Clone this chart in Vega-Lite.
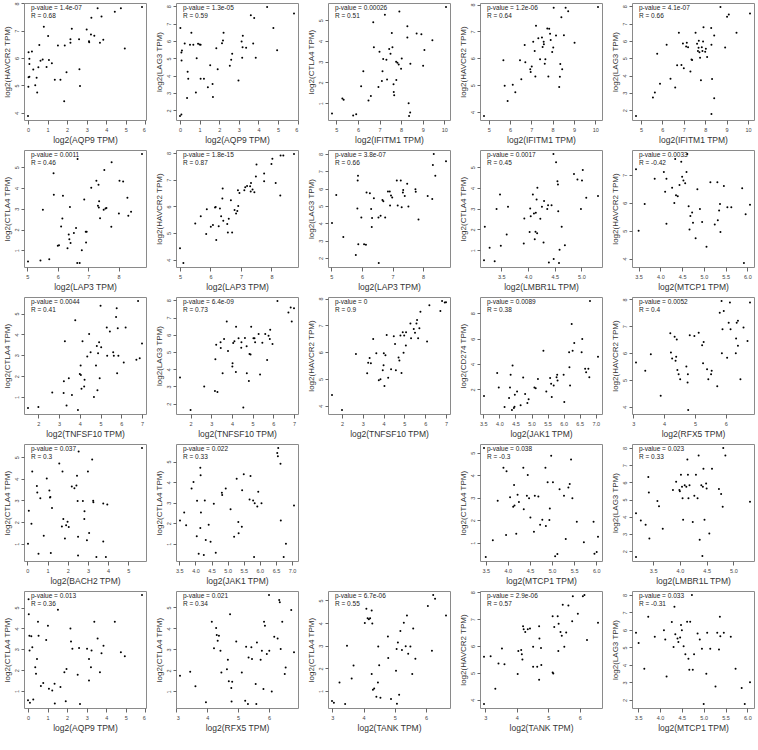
{
"$schema":"https://vega.github.io/schema/vega-lite/v6.json",
"padding":{"left":2,"top":1,"right":0,"bottom":0},
"background":"white",
"datasets":{
"stats":[
{"p":1,"label":"p-value = 1.4e-07\nR = 0.68"},{"p":2,"label":"p-value = 1.3e-05\nR = 0.59"},{"p":3,"label":"p-value = 0.00026\nR = 0.51"},{"p":4,"label":"p-value = 1.2e-06\nR = 0.64"},{"p":5,"label":"p-value = 4.1e-07\nR = 0.66"},
{"p":6,"label":"p-value = 0.0011\nR = 0.46"},{"p":7,"label":"p-value = 1.8e-15\nR = 0.87"},{"p":8,"label":"p-value = 3.8e-07\nR = 0.66"},{"p":9,"label":"p-value = 0.0017\nR = 0.45"},{"p":10,"label":"p-value = 0.0033\nR = -0.42"},
{"p":11,"label":"p-value = 0.0044\nR = 0.41"},{"p":12,"label":"p-value = 6.4e-09\nR = 0.73"},{"p":13,"label":"p-value = 0\nR = 0.9"},{"p":14,"label":"p-value = 0.0089\nR = 0.38"},{"p":15,"label":"p-value = 0.0052\nR = 0.4"},
{"p":16,"label":"p-value = 0.037\nR = 0.3"},{"p":17,"label":"p-value = 0.022\nR = 0.33"},{"p":18,"label":"p-value = 0.038\nR = -0.3"},{"p":19,"label":"p-value = 0.023\nR = 0.33"},
{"p":20,"label":"p-value = 0.013\nR = 0.36"},{"p":21,"label":"p-value = 0.021\nR = 0.34"},{"p":22,"label":"p-value = 6.7e-06\nR = 0.55"},{"p":23,"label":"p-value = 2.9e-06\nR = 0.57"},{"p":24,"label":"p-value = 0.033\nR = -0.31"}
],
"pts":[
{"p":1,"x":0.00,"y":3.88},{"p":1,"x":0.03,"y":6.21},{"p":1,"x":0.07,"y":5.98},{"p":1,"x":0.07,"y":5.78},{"p":1,"x":0.07,"y":5.32},{"p":1,"x":0.03,"y":5.30},{"p":1,"x":0.02,"y":4.95},{"p":1,"x":0.20,"y":6.24},{"p":1,"x":0.27,"y":5.58},{"p":1,"x":0.37,"y":5.01},{"p":1,"x":0.44,"y":5.28},{"p":1,"x":0.47,"y":4.74},{"p":1,"x":0.53,"y":5.66},{"p":1,"x":0.58,"y":6.48},{"p":1,"x":0.64,"y":5.90},{"p":1,"x":0.75,"y":5.95},{"p":1,"x":0.81,"y":7.15},{"p":1,"x":0.95,"y":5.67},{"p":1,"x":1.03,"y":6.81},{"p":1,"x":1.07,"y":5.93},{"p":1,"x":1.22,"y":5.81},{"p":1,"x":1.37,"y":5.21},{"p":1,"x":1.53,"y":6.46},{"p":1,"x":1.66,"y":5.21},{"p":1,"x":1.85,"y":4.42},{"p":1,"x":1.88,"y":6.46},{"p":1,"x":1.97,"y":5.48},{"p":1,"x":2.17,"y":6.56},{"p":1,"x":2.17,"y":6.69},{"p":1,"x":2.24,"y":7.07},{"p":1,"x":2.61,"y":6.69},{"p":1,"x":2.63,"y":5.59},{"p":1,"x":2.66,"y":4.98},{"p":1,"x":3.00,"y":7.05},{"p":1,"x":3.12,"y":6.62},{"p":1,"x":3.13,"y":6.58},{"p":1,"x":3.24,"y":7.48},{"p":1,"x":3.22,"y":6.86},{"p":1,"x":3.39,"y":6.82},{"p":1,"x":3.56,"y":7.82},{"p":1,"x":3.68,"y":6.56},{"p":1,"x":3.76,"y":7.52},{"p":1,"x":3.85,"y":6.67},{"p":1,"x":4.44,"y":7.70},{"p":1,"x":4.75,"y":7.82},{"p":1,"x":4.95,"y":6.35},{"p":1,"x":5.83,"y":7.87},
{"p":2,"x":0.00,"y":1.68},{"p":2,"x":0.07,"y":1.77},{"p":2,"x":0.02,"y":6.75},{"p":2,"x":0.07,"y":5.34},{"p":2,"x":0.10,"y":5.45},{"p":2,"x":0.08,"y":4.88},{"p":2,"x":0.24,"y":5.85},{"p":2,"x":0.36,"y":2.71},{"p":2,"x":0.39,"y":4.23},{"p":2,"x":0.42,"y":3.82},{"p":2,"x":0.51,"y":5.78},{"p":2,"x":0.58,"y":6.47},{"p":2,"x":0.68,"y":5.78},{"p":2,"x":0.81,"y":3.04},{"p":2,"x":0.92,"y":5.84},{"p":2,"x":1.00,"y":5.80},{"p":2,"x":1.05,"y":5.78},{"p":2,"x":0.85,"y":5.01},{"p":2,"x":1.05,"y":3.82},{"p":2,"x":1.22,"y":3.82},{"p":2,"x":1.42,"y":3.34},{"p":2,"x":1.54,"y":4.61},{"p":2,"x":1.68,"y":2.77},{"p":2,"x":1.66,"y":3.52},{"p":2,"x":1.85,"y":5.59},{"p":2,"x":1.92,"y":4.38},{"p":2,"x":2.14,"y":5.87},{"p":2,"x":2.19,"y":6.03},{"p":2,"x":2.22,"y":6.47},{"p":2,"x":2.54,"y":4.57},{"p":2,"x":2.61,"y":4.92},{"p":2,"x":2.66,"y":5.26},{"p":2,"x":2.98,"y":3.73},{"p":2,"x":3.14,"y":5.97},{"p":2,"x":3.17,"y":5.03},{"p":2,"x":3.20,"y":6.31},{"p":2,"x":3.19,"y":5.64},{"p":2,"x":3.37,"y":5.61},{"p":2,"x":3.61,"y":7.48},{"p":2,"x":3.73,"y":5.85},{"p":2,"x":3.86,"y":5.03},{"p":2,"x":3.78,"y":7.33},{"p":2,"x":4.44,"y":7.96},{"p":2,"x":4.76,"y":6.75},{"p":2,"x":4.95,"y":5.47},{"p":2,"x":5.81,"y":7.58},
{"p":3,"x":4.80,"y":0.50},{"p":3,"x":5.34,"y":1.17},{"p":3,"x":5.28,"y":1.22},{"p":3,"x":5.78,"y":0.41},{"p":3,"x":5.92,"y":0.46},{"p":3,"x":6.15,"y":1.82},{"p":3,"x":6.25,"y":2.54},{"p":3,"x":6.49,"y":1.13},{"p":3,"x":6.60,"y":1.35},{"p":3,"x":6.71,"y":4.90},{"p":3,"x":6.74,"y":3.70},{"p":3,"x":6.95,"y":1.78},{"p":3,"x":7.00,"y":3.48},{"p":3,"x":7.11,"y":2.07},{"p":3,"x":7.14,"y":2.54},{"p":3,"x":7.17,"y":3.13},{"p":3,"x":7.25,"y":5.26},{"p":3,"x":7.32,"y":3.10},{"p":3,"x":7.35,"y":2.14},{"p":3,"x":7.45,"y":3.61},{"p":3,"x":7.51,"y":3.38},{"p":3,"x":7.57,"y":4.38},{"p":3,"x":7.60,"y":3.70},{"p":3,"x":7.65,"y":1.91},{"p":3,"x":7.66,"y":1.54},{"p":3,"x":7.68,"y":1.38},{"p":3,"x":7.77,"y":3.00},{"p":3,"x":7.78,"y":2.12},{"p":3,"x":7.83,"y":2.95},{"p":3,"x":7.89,"y":2.87},{"p":3,"x":7.92,"y":5.42},{"p":3,"x":8.00,"y":2.66},{"p":3,"x":8.03,"y":3.16},{"p":3,"x":8.29,"y":4.71},{"p":3,"x":8.29,"y":4.17},{"p":3,"x":8.35,"y":1.00},{"p":3,"x":8.42,"y":0.55},{"p":3,"x":8.37,"y":0.38},{"p":3,"x":8.43,"y":2.90},{"p":3,"x":8.72,"y":4.36},{"p":3,"x":8.94,"y":4.33},{"p":3,"x":9.02,"y":2.81},{"p":3,"x":9.08,"y":3.56},{"p":3,"x":9.45,"y":4.04},{"p":3,"x":10.08,"y":5.64},
{"p":4,"x":4.78,"y":3.85},{"p":4,"x":5.69,"y":5.93},{"p":4,"x":5.75,"y":4.98},{"p":4,"x":5.89,"y":4.41},{"p":4,"x":6.13,"y":5.01},{"p":4,"x":6.25,"y":4.73},{"p":4,"x":6.53,"y":5.22},{"p":4,"x":6.47,"y":5.93},{"p":4,"x":6.72,"y":5.85},{"p":4,"x":6.69,"y":6.49},{"p":4,"x":6.95,"y":5.59},{"p":4,"x":6.97,"y":5.49},{"p":4,"x":7.02,"y":5.69},{"p":4,"x":7.09,"y":6.62},{"p":4,"x":7.16,"y":6.27},{"p":4,"x":7.19,"y":5.32},{"p":4,"x":7.22,"y":7.21},{"p":4,"x":7.33,"y":6.75},{"p":4,"x":7.41,"y":5.96},{"p":4,"x":7.50,"y":6.77},{"p":4,"x":7.53,"y":6.42},{"p":4,"x":7.58,"y":6.62},{"p":4,"x":7.59,"y":6.52},{"p":4,"x":7.63,"y":5.80},{"p":4,"x":7.66,"y":5.96},{"p":4,"x":7.75,"y":7.11},{"p":4,"x":7.80,"y":5.32},{"p":4,"x":7.84,"y":7.10},{"p":4,"x":7.88,"y":6.91},{"p":4,"x":7.91,"y":6.68},{"p":4,"x":7.98,"y":6.23},{"p":4,"x":8.03,"y":6.40},{"p":4,"x":8.05,"y":7.88},{"p":4,"x":8.16,"y":6.85},{"p":4,"x":8.31,"y":4.93},{"p":4,"x":8.34,"y":5.31},{"p":4,"x":8.36,"y":5.79},{"p":4,"x":8.41,"y":7.53},{"p":4,"x":8.45,"y":5.59},{"p":4,"x":8.53,"y":6.86},{"p":4,"x":8.61,"y":7.88},{"p":4,"x":8.73,"y":7.75},{"p":4,"x":9.03,"y":6.58},{"p":4,"x":10.13,"y":7.91},
{"p":5,"x":4.77,"y":1.66},{"p":5,"x":5.56,"y":2.73},{"p":5,"x":5.65,"y":3.02},{"p":5,"x":5.76,"y":5.26},{"p":5,"x":5.89,"y":3.52},{"p":5,"x":6.20,"y":5.78},{"p":5,"x":6.38,"y":3.82},{"p":5,"x":6.60,"y":3.31},{"p":5,"x":6.77,"y":6.47},{"p":5,"x":6.69,"y":4.59},{"p":5,"x":6.89,"y":4.61},{"p":5,"x":6.96,"y":5.85},{"p":5,"x":7.00,"y":4.42},{"p":5,"x":7.11,"y":5.68},{"p":5,"x":7.14,"y":5.89},{"p":5,"x":7.20,"y":5.64},{"p":5,"x":7.31,"y":4.23},{"p":5,"x":7.36,"y":4.93},{"p":5,"x":7.39,"y":4.90},{"p":5,"x":7.55,"y":6.47},{"p":5,"x":7.62,"y":5.84},{"p":5,"x":7.66,"y":5.41},{"p":5,"x":7.69,"y":5.61},{"p":5,"x":7.70,"y":6.01},{"p":5,"x":7.73,"y":5.34},{"p":5,"x":7.76,"y":5.03},{"p":5,"x":7.80,"y":3.73},{"p":5,"x":7.84,"y":5.64},{"p":5,"x":7.90,"y":5.97},{"p":5,"x":7.87,"y":5.41},{"p":5,"x":7.92,"y":6.79},{"p":5,"x":8.00,"y":5.38},{"p":5,"x":8.03,"y":5.55},{"p":5,"x":8.09,"y":5.07},{"p":5,"x":8.28,"y":6.75},{"p":5,"x":8.29,"y":5.78},{"p":5,"x":8.32,"y":3.80},{"p":5,"x":8.42,"y":6.31},{"p":5,"x":8.42,"y":2.69},{"p":5,"x":8.29,"y":1.77},{"p":5,"x":8.71,"y":7.96},{"p":5,"x":8.93,"y":5.62},{"p":5,"x":9.02,"y":7.39},{"p":5,"x":9.10,"y":7.52},{"p":5,"x":9.46,"y":6.47},{"p":5,"x":10.09,"y":7.58},
{"p":6,"x":5.02,"y":0.46},{"p":6,"x":5.43,"y":0.51},{"p":6,"x":5.72,"y":0.57},{"p":6,"x":5.51,"y":2.96},{"p":6,"x":5.86,"y":4.71},{"p":6,"x":5.87,"y":3.68},{"p":6,"x":6.00,"y":1.22},{"p":6,"x":6.04,"y":1.25},{"p":6,"x":6.11,"y":2.15},{"p":6,"x":6.15,"y":2.53},{"p":6,"x":6.17,"y":3.63},{"p":6,"x":6.32,"y":1.10},{"p":6,"x":6.36,"y":1.76},{"p":6,"x":6.38,"y":1.53},{"p":6,"x":6.40,"y":3.09},{"p":6,"x":6.42,"y":1.35},{"p":6,"x":6.53,"y":1.84},{"p":6,"x":6.60,"y":2.07},{"p":6,"x":6.64,"y":0.39},{"p":6,"x":6.72,"y":0.39},{"p":6,"x":6.79,"y":1.00},{"p":6,"x":6.87,"y":3.45},{"p":6,"x":6.92,"y":1.89},{"p":6,"x":6.95,"y":1.89},{"p":6,"x":6.93,"y":1.38},{"p":6,"x":7.10,"y":4.01},{"p":6,"x":7.27,"y":4.35},{"p":6,"x":7.32,"y":3.15},{"p":6,"x":7.34,"y":4.16},{"p":6,"x":7.35,"y":3.06},{"p":6,"x":7.36,"y":3.37},{"p":6,"x":7.39,"y":2.55},{"p":6,"x":7.51,"y":2.96},{"p":6,"x":7.53,"y":4.87},{"p":6,"x":7.57,"y":3.01},{"p":6,"x":7.60,"y":3.04},{"p":6,"x":7.76,"y":2.13},{"p":6,"x":7.77,"y":5.24},{"p":6,"x":8.01,"y":2.78},{"p":6,"x":8.03,"y":4.35},{"p":6,"x":8.15,"y":4.31},{"p":6,"x":8.29,"y":3.53},{"p":6,"x":8.32,"y":2.66},{"p":6,"x":8.41,"y":2.86},{"p":6,"x":8.77,"y":5.64},{"p":6,"x":6.65,"y":5.40},
{"p":7,"x":5.00,"y":4.43},{"p":7,"x":5.11,"y":3.88},{"p":7,"x":5.50,"y":5.36},{"p":7,"x":5.68,"y":5.63},{"p":7,"x":5.86,"y":4.97},{"p":7,"x":5.88,"y":5.89},{"p":7,"x":6.01,"y":5.24},{"p":7,"x":6.08,"y":5.30},{"p":7,"x":6.15,"y":5.96},{"p":7,"x":6.17,"y":5.98},{"p":7,"x":6.19,"y":4.74},{"p":7,"x":6.27,"y":5.26},{"p":7,"x":6.31,"y":5.92},{"p":7,"x":6.35,"y":5.63},{"p":7,"x":6.39,"y":6.29},{"p":7,"x":6.40,"y":6.67},{"p":7,"x":6.42,"y":5.46},{"p":7,"x":6.55,"y":5.34},{"p":7,"x":6.57,"y":5.02},{"p":7,"x":6.60,"y":5.54},{"p":7,"x":6.67,"y":6.23},{"p":7,"x":6.71,"y":5.02},{"p":7,"x":6.79,"y":5.86},{"p":7,"x":6.84,"y":5.73},{"p":7,"x":6.88,"y":5.83},{"p":7,"x":6.90,"y":6.60},{"p":7,"x":6.91,"y":6.01},{"p":7,"x":6.95,"y":6.50},{"p":7,"x":7.11,"y":6.60},{"p":7,"x":7.14,"y":6.72},{"p":7,"x":7.20,"y":6.76},{"p":7,"x":7.30,"y":6.75},{"p":7,"x":7.33,"y":6.87},{"p":7,"x":7.32,"y":6.56},{"p":7,"x":7.38,"y":6.63},{"p":7,"x":7.44,"y":6.53},{"p":7,"x":7.49,"y":7.12},{"p":7,"x":7.51,"y":7.57},{"p":7,"x":7.76,"y":7.23},{"p":7,"x":7.76,"y":6.94},{"p":7,"x":8.00,"y":7.59},{"p":7,"x":8.03,"y":7.78},{"p":7,"x":8.14,"y":6.87},{"p":7,"x":8.29,"y":6.41},{"p":7,"x":8.30,"y":7.90},{"p":7,"x":8.39,"y":7.90},{"p":7,"x":8.74,"y":7.96},
{"p":8,"x":5.02,"y":4.02},{"p":8,"x":5.39,"y":3.21},{"p":8,"x":5.80,"y":2.17},{"p":8,"x":5.16,"y":5.63},{"p":8,"x":5.87,"y":6.75},{"p":8,"x":5.86,"y":6.47},{"p":8,"x":5.88,"y":2.79},{"p":8,"x":5.85,"y":4.85},{"p":8,"x":5.98,"y":4.33},{"p":8,"x":6.07,"y":2.79},{"p":8,"x":6.13,"y":2.77},{"p":8,"x":6.15,"y":5.78},{"p":8,"x":6.26,"y":5.74},{"p":8,"x":6.30,"y":4.83},{"p":8,"x":6.32,"y":3.79},{"p":8,"x":6.33,"y":4.31},{"p":8,"x":6.39,"y":5.45},{"p":8,"x":6.54,"y":4.33},{"p":8,"x":6.55,"y":1.71},{"p":8,"x":6.61,"y":4.43},{"p":8,"x":6.67,"y":5.34},{"p":8,"x":6.70,"y":5.28},{"p":8,"x":6.76,"y":4.33},{"p":8,"x":6.85,"y":5.84},{"p":8,"x":6.91,"y":5.84},{"p":8,"x":6.92,"y":5.03},{"p":8,"x":6.95,"y":5.61},{"p":8,"x":6.99,"y":5.49},{"p":8,"x":7.14,"y":6.47},{"p":8,"x":7.17,"y":5.03},{"p":8,"x":7.27,"y":6.47},{"p":8,"x":7.30,"y":4.93},{"p":8,"x":7.35,"y":5.92},{"p":8,"x":7.34,"y":5.78},{"p":8,"x":7.40,"y":5.57},{"p":8,"x":7.48,"y":6.28},{"p":8,"x":7.52,"y":4.97},{"p":8,"x":7.75,"y":5.97},{"p":8,"x":7.76,"y":5.82},{"p":8,"x":7.85,"y":4.22},{"p":8,"x":8.15,"y":5.57},{"p":8,"x":8.30,"y":5.41},{"p":8,"x":8.35,"y":8.00},{"p":8,"x":8.32,"y":7.36},{"p":8,"x":8.40,"y":6.75},{"p":8,"x":8.75,"y":7.58},
{"p":9,"x":3.175,"y":0.51},{"p":9,"x":3.19,"y":2.13},{"p":9,"x":3.28,"y":1.11},{"p":9,"x":3.375,"y":0.46},{"p":9,"x":3.41,"y":2.98},{"p":9,"x":3.49,"y":1.21},{"p":9,"x":3.475,"y":3.68},{"p":9,"x":3.625,"y":3.09},{"p":9,"x":3.60,"y":1.76},{"p":9,"x":3.92,"y":1.32},{"p":9,"x":3.93,"y":2.53},{"p":9,"x":4.03,"y":1.88},{"p":9,"x":4.04,"y":3.01},{"p":9,"x":4.05,"y":2.64},{"p":9,"x":4.09,"y":3.68},{"p":9,"x":4.11,"y":2.77},{"p":9,"x":4.125,"y":1.53},{"p":9,"x":4.14,"y":1.89},{"p":9,"x":4.145,"y":2.80},{"p":9,"x":4.16,"y":3.44},{"p":9,"x":4.17,"y":1.81},{"p":9,"x":4.175,"y":4.01},{"p":9,"x":4.23,"y":2.51},{"p":9,"x":4.26,"y":3.09},{"p":9,"x":4.29,"y":1.37},{"p":9,"x":4.30,"y":3.37},{"p":9,"x":4.36,"y":2.98},{"p":9,"x":4.375,"y":3.17},{"p":9,"x":4.44,"y":3.17},{"p":9,"x":4.39,"y":0.41},{"p":9,"x":4.475,"y":5.64},{"p":9,"x":4.48,"y":0.57},{"p":9,"x":4.58,"y":0.38},{"p":9,"x":4.525,"y":5.24},{"p":9,"x":4.55,"y":4.33},{"p":9,"x":4.56,"y":4.17},{"p":9,"x":4.565,"y":2.88},{"p":9,"x":4.59,"y":1.02},{"p":9,"x":4.63,"y":2.13},{"p":9,"x":4.69,"y":1.24},{"p":9,"x":4.86,"y":4.68},{"p":9,"x":4.925,"y":4.41},{"p":9,"x":4.99,"y":2.98},{"p":9,"x":5.01,"y":4.36},{"p":9,"x":5.025,"y":4.87},{"p":9,"x":5.09,"y":3.53},{"p":9,"x":5.31,"y":3.61},
{"p":10,"x":3.44,"y":7.20},{"p":10,"x":3.50,"y":5.00},{"p":10,"x":3.64,"y":5.96},{"p":10,"x":3.87,"y":6.86},{"p":10,"x":4.08,"y":7.10},{"p":10,"x":4.11,"y":6.40},{"p":10,"x":4.14,"y":6.86},{"p":10,"x":4.14,"y":5.25},{"p":10,"x":4.27,"y":6.54},{"p":10,"x":4.32,"y":5.99},{"p":10,"x":4.34,"y":7.57},{"p":10,"x":4.36,"y":6.27},{"p":10,"x":4.40,"y":6.23},{"p":10,"x":4.44,"y":6.64},{"p":10,"x":4.48,"y":7.47},{"p":10,"x":4.50,"y":6.93},{"p":10,"x":4.53,"y":6.80},{"p":10,"x":4.57,"y":6.70},{"p":10,"x":4.60,"y":7.10},{"p":10,"x":4.62,"y":7.75},{"p":10,"x":4.65,"y":5.88},{"p":10,"x":4.67,"y":5.04},{"p":10,"x":4.69,"y":5.53},{"p":10,"x":4.73,"y":5.65},{"p":10,"x":4.75,"y":5.28},{"p":10,"x":4.81,"y":4.73},{"p":10,"x":4.85,"y":6.49},{"p":10,"x":4.91,"y":5.78},{"p":10,"x":4.96,"y":5.31},{"p":10,"x":5.06,"y":4.42},{"p":10,"x":5.15,"y":6.74},{"p":10,"x":5.25,"y":5.22},{"p":10,"x":5.31,"y":6.74},{"p":10,"x":5.32,"y":5.37},{"p":10,"x":5.35,"y":5.72},{"p":10,"x":5.37,"y":5.96},{"p":10,"x":5.38,"y":4.95},{"p":10,"x":5.46,"y":6.60},{"p":10,"x":5.54,"y":5.84},{"p":10,"x":5.63,"y":5.84},{"p":10,"x":5.88,"y":6.52},{"p":10,"x":5.96,"y":5.59},{"p":10,"x":6.06,"y":5.93},{"p":10,"x":5.92,"y":3.84},
{"p":11,"x":1.50,"y":0.48},{"p":11,"x":2.00,"y":0.52},{"p":11,"x":2.67,"y":1.22},{"p":11,"x":3.22,"y":1.19},{"p":11,"x":3.23,"y":1.76},{"p":11,"x":3.28,"y":3.67},{"p":11,"x":3.36,"y":0.59},{"p":11,"x":3.47,"y":1.90},{"p":11,"x":3.62,"y":1.10},{"p":11,"x":3.78,"y":4.68},{"p":11,"x":3.91,"y":0.38},{"p":11,"x":4.00,"y":2.11},{"p":11,"x":4.04,"y":2.51},{"p":11,"x":4.05,"y":2.06},{"p":11,"x":4.08,"y":1.40},{"p":11,"x":4.13,"y":3.67},{"p":11,"x":4.21,"y":1.51},{"p":11,"x":4.23,"y":1.83},{"p":11,"x":4.36,"y":2.94},{"p":11,"x":4.45,"y":4.02},{"p":11,"x":4.52,"y":3.14},{"p":11,"x":4.68,"y":1.00},{"p":11,"x":4.78,"y":2.51},{"p":11,"x":4.82,"y":3.44},{"p":11,"x":4.85,"y":1.33},{"p":11,"x":4.88,"y":3.10},{"p":11,"x":4.93,"y":3.62},{"p":11,"x":4.96,"y":1.90},{"p":11,"x":5.00,"y":5.37},{"p":11,"x":5.03,"y":3.38},{"p":11,"x":5.30,"y":4.33},{"p":11,"x":5.32,"y":2.98},{"p":11,"x":5.45,"y":4.14},{"p":11,"x":5.61,"y":3.14},{"p":11,"x":5.64,"y":2.98},{"p":11,"x":5.75,"y":4.83},{"p":11,"x":5.78,"y":5.25},{"p":11,"x":5.83,"y":4.30},{"p":11,"x":5.86,"y":2.98},{"p":11,"x":5.80,"y":2.14},{"p":11,"x":6.12,"y":2.65},{"p":11,"x":6.21,"y":4.33},{"p":11,"x":6.73,"y":2.79},{"p":11,"x":6.89,"y":2.86},{"p":11,"x":6.81,"y":5.60},{"p":11,"x":7.00,"y":3.56},
{"p":12,"x":1.49,"y":3.52},{"p":12,"x":2.00,"y":1.63},{"p":12,"x":2.66,"y":3.00},{"p":12,"x":3.18,"y":2.73},{"p":12,"x":3.30,"y":2.67},{"p":12,"x":3.20,"y":4.58},{"p":12,"x":3.24,"y":5.42},{"p":12,"x":3.45,"y":5.56},{"p":12,"x":3.75,"y":6.77},{"p":12,"x":3.46,"y":5.23},{"p":12,"x":3.55,"y":3.77},{"p":12,"x":4.03,"y":4.35},{"p":12,"x":4.02,"y":4.15},{"p":12,"x":3.62,"y":5.75},{"p":12,"x":3.81,"y":5.06},{"p":12,"x":4.19,"y":3.83},{"p":12,"x":4.06,"y":5.52},{"p":12,"x":4.12,"y":5.62},{"p":12,"x":4.20,"y":6.46},{"p":12,"x":4.55,"y":1.77},{"p":12,"x":4.32,"y":5.79},{"p":12,"x":4.46,"y":5.56},{"p":12,"x":4.72,"y":3.77},{"p":12,"x":4.45,"y":5.25},{"p":12,"x":4.82,"y":3.31},{"p":12,"x":4.85,"y":4.88},{"p":12,"x":4.90,"y":4.85},{"p":12,"x":4.63,"y":5.81},{"p":12,"x":4.71,"y":5.33},{"p":12,"x":4.93,"y":6.46},{"p":12,"x":5.36,"y":3.69},{"p":12,"x":5.04,"y":5.79},{"p":12,"x":5.12,"y":5.56},{"p":12,"x":5.29,"y":6.04},{"p":12,"x":5.47,"y":5.54},{"p":12,"x":5.61,"y":6.04},{"p":12,"x":5.70,"y":4.54},{"p":12,"x":5.77,"y":5.94},{"p":12,"x":5.83,"y":5.75},{"p":12,"x":5.85,"y":6.29},{"p":12,"x":5.96,"y":5.46},{"p":12,"x":6.20,"y":7.96},{"p":12,"x":6.73,"y":7.29},{"p":12,"x":6.84,"y":7.58},{"p":12,"x":6.89,"y":6.77},{"p":12,"x":7.00,"y":7.54},{"p":12,"x":5.09,"y":5.79},
{"p":13,"x":1.52,"y":4.40},{"p":13,"x":2.00,"y":3.84},{"p":13,"x":2.67,"y":5.93},{"p":13,"x":3.21,"y":5.21},{"p":13,"x":3.26,"y":5.60},{"p":13,"x":3.33,"y":5.78},{"p":13,"x":3.39,"y":5.59},{"p":13,"x":3.50,"y":6.49},{"p":13,"x":3.65,"y":5.96},{"p":13,"x":3.77,"y":4.95},{"p":13,"x":3.85,"y":4.99},{"p":13,"x":3.96,"y":5.32},{"p":13,"x":4.00,"y":5.51},{"p":13,"x":4.01,"y":5.96},{"p":13,"x":4.04,"y":4.74},{"p":13,"x":4.09,"y":5.88},{"p":13,"x":4.15,"y":6.64},{"p":13,"x":4.22,"y":5.04},{"p":13,"x":4.36,"y":5.36},{"p":13,"x":4.49,"y":6.59},{"p":13,"x":4.55,"y":6.30},{"p":13,"x":4.59,"y":5.32},{"p":13,"x":4.72,"y":5.80},{"p":13,"x":4.76,"y":5.69},{"p":13,"x":4.81,"y":6.62},{"p":13,"x":4.86,"y":5.22},{"p":13,"x":4.92,"y":6.74},{"p":13,"x":4.96,"y":5.98},{"p":13,"x":4.99,"y":6.62},{"p":13,"x":5.07,"y":6.25},{"p":13,"x":5.08,"y":6.74},{"p":13,"x":5.29,"y":7.07},{"p":13,"x":5.32,"y":6.52},{"p":13,"x":5.45,"y":6.86},{"p":13,"x":5.51,"y":6.72},{"p":13,"x":5.58,"y":7.07},{"p":13,"x":5.61,"y":7.20},{"p":13,"x":5.66,"y":6.52},{"p":13,"x":5.72,"y":6.89},{"p":13,"x":5.77,"y":7.51},{"p":13,"x":6.09,"y":6.40},{"p":13,"x":6.20,"y":7.75},{"p":13,"x":6.73,"y":7.54},{"p":13,"x":6.81,"y":7.91},{"p":13,"x":6.94,"y":7.85},{"p":13,"x":7.00,"y":7.86},
{"p":14,"x":3.52,"y":1.48},{"p":14,"x":3.93,"y":3.30},{"p":14,"x":3.98,"y":2.16},{"p":14,"x":4.16,"y":0.62},{"p":14,"x":4.30,"y":1.32},{"p":14,"x":4.33,"y":2.16},{"p":14,"x":4.35,"y":3.15},{"p":14,"x":4.39,"y":0.38},{"p":14,"x":4.41,"y":3.88},{"p":14,"x":4.45,"y":0.54},{"p":14,"x":4.47,"y":0.64},{"p":14,"x":4.48,"y":1.58},{"p":14,"x":4.55,"y":1.84},{"p":14,"x":4.66,"y":0.75},{"p":14,"x":4.74,"y":2.94},{"p":14,"x":4.80,"y":1.63},{"p":14,"x":4.87,"y":0.93},{"p":14,"x":4.91,"y":1.22},{"p":14,"x":5.09,"y":2.16},{"p":14,"x":5.13,"y":2.10},{"p":14,"x":5.20,"y":2.83},{"p":14,"x":5.37,"y":5.05},{"p":14,"x":5.46,"y":1.84},{"p":14,"x":5.58,"y":2.89},{"p":14,"x":5.61,"y":2.44},{"p":14,"x":5.63,"y":1.40},{"p":14,"x":5.69,"y":2.31},{"p":14,"x":5.78,"y":2.96},{"p":14,"x":5.80,"y":3.15},{"p":14,"x":5.81,"y":2.70},{"p":14,"x":6.00,"y":3.15},{"p":14,"x":6.02,"y":1.01},{"p":14,"x":6.17,"y":4.92},{"p":14,"x":6.18,"y":3.75},{"p":14,"x":6.20,"y":2.31},{"p":14,"x":6.25,"y":7.14},{"p":14,"x":6.28,"y":5.05},{"p":14,"x":6.33,"y":5.65},{"p":14,"x":6.56,"y":4.92},{"p":14,"x":6.58,"y":5.96},{"p":14,"x":6.67,"y":3.62},{"p":14,"x":6.70,"y":3.36},{"p":14,"x":6.77,"y":3.62},{"p":14,"x":6.80,"y":2.96},{"p":14,"x":6.82,"y":8.96},{"p":14,"x":7.07,"y":4.58},
{"p":15,"x":3.09,"y":5.65},{"p":15,"x":3.39,"y":5.34},{"p":15,"x":3.57,"y":5.96},{"p":15,"x":3.89,"y":4.41},{"p":15,"x":4.20,"y":6.74},{"p":15,"x":4.22,"y":6.02},{"p":15,"x":4.26,"y":5.80},{"p":15,"x":4.34,"y":6.61},{"p":15,"x":4.37,"y":5.71},{"p":15,"x":4.39,"y":5.86},{"p":15,"x":4.41,"y":6.51},{"p":15,"x":4.43,"y":5.37},{"p":15,"x":4.47,"y":5.21},{"p":15,"x":4.52,"y":5.03},{"p":15,"x":4.72,"y":5.50},{"p":15,"x":4.76,"y":4.90},{"p":15,"x":4.77,"y":5.21},{"p":15,"x":4.78,"y":3.88},{"p":15,"x":4.83,"y":6.66},{"p":15,"x":4.98,"y":6.64},{"p":15,"x":5.12,"y":6.76},{"p":15,"x":5.23,"y":6.29},{"p":15,"x":5.26,"y":5.62},{"p":15,"x":5.28,"y":6.41},{"p":15,"x":5.39,"y":5.40},{"p":15,"x":5.43,"y":5.03},{"p":15,"x":5.52,"y":5.21},{"p":15,"x":5.54,"y":5.34},{"p":15,"x":5.72,"y":4.76},{"p":15,"x":5.80,"y":7.50},{"p":15,"x":5.86,"y":7.94},{"p":15,"x":5.87,"y":5.99},{"p":15,"x":5.89,"y":6.89},{"p":15,"x":5.93,"y":7.57},{"p":15,"x":6.04,"y":5.83},{"p":15,"x":6.09,"y":7.13},{"p":15,"x":6.13,"y":7.88},{"p":15,"x":6.15,"y":6.89},{"p":15,"x":6.32,"y":5.99},{"p":15,"x":6.33,"y":6.54},{"p":15,"x":6.35,"y":7.13},{"p":15,"x":6.39,"y":7.20},{"p":15,"x":6.39,"y":6.27},{"p":15,"x":6.47,"y":5.03},{"p":15,"x":6.57,"y":6.95},{"p":15,"x":6.70,"y":6.45},{"p":15,"x":6.78,"y":7.88},
{"p":16,"x":0.03,"y":1.00},{"p":16,"x":0.07,"y":2.52},{"p":16,"x":0.20,"y":1.93},{"p":16,"x":0.24,"y":4.34},{"p":16,"x":0.49,"y":3.37},{"p":16,"x":0.47,"y":3.67},{"p":16,"x":0.55,"y":0.54},{"p":16,"x":0.64,"y":3.10},{"p":16,"x":0.81,"y":1.37},{"p":16,"x":0.96,"y":4.01},{"p":16,"x":1.09,"y":3.46},{"p":16,"x":1.12,"y":3.13},{"p":16,"x":1.14,"y":3.16},{"p":16,"x":1.16,"y":0.57},{"p":16,"x":1.22,"y":2.65},{"p":16,"x":1.58,"y":4.70},{"p":16,"x":1.71,"y":1.80},{"p":16,"x":1.74,"y":4.34},{"p":16,"x":1.78,"y":2.14},{"p":16,"x":1.86,"y":1.24},{"p":16,"x":1.92,"y":1.85},{"p":16,"x":1.99,"y":2.02},{"p":16,"x":2.05,"y":1.77},{"p":16,"x":2.20,"y":3.64},{"p":16,"x":2.33,"y":3.56},{"p":16,"x":2.43,"y":3.69},{"p":16,"x":2.46,"y":4.14},{"p":16,"x":2.49,"y":2.97},{"p":16,"x":2.51,"y":1.32},{"p":16,"x":2.51,"y":0.46},{"p":16,"x":2.54,"y":5.26},{"p":16,"x":2.75,"y":2.97},{"p":16,"x":2.82,"y":2.14},{"p":16,"x":2.83,"y":2.50},{"p":16,"x":2.95,"y":1.16},{"p":16,"x":3.00,"y":4.33},{"p":16,"x":3.06,"y":1.50},{"p":16,"x":3.21,"y":4.89},{"p":16,"x":3.26,"y":2.98},{"p":16,"x":3.27,"y":2.92},{"p":16,"x":3.42,"y":0.39},{"p":16,"x":3.76,"y":1.10},{"p":16,"x":3.76,"y":2.86},{"p":16,"x":3.89,"y":0.39},{"p":16,"x":3.96,"y":2.81},{"p":16,"x":5.68,"y":5.42},
{"p":17,"x":3.52,"y":2.14},{"p":17,"x":3.65,"y":2.52},{"p":17,"x":3.71,"y":1.90},{"p":17,"x":3.88,"y":3.69},{"p":17,"x":3.94,"y":4.01},{"p":17,"x":4.04,"y":1.37},{"p":17,"x":4.05,"y":3.10},{"p":17,"x":4.10,"y":0.52},{"p":17,"x":4.15,"y":4.70},{"p":17,"x":4.16,"y":4.34},{"p":17,"x":4.17,"y":2.52},{"p":17,"x":4.15,"y":1.77},{"p":17,"x":4.26,"y":0.46},{"p":17,"x":4.29,"y":3.11},{"p":17,"x":4.32,"y":1.19},{"p":17,"x":4.41,"y":1.93},{"p":17,"x":4.47,"y":1.10},{"p":17,"x":4.57,"y":2.95},{"p":17,"x":4.63,"y":0.57},{"p":17,"x":4.82,"y":3.48},{"p":17,"x":4.83,"y":3.37},{"p":17,"x":4.94,"y":3.69},{"p":17,"x":5.09,"y":2.68},{"p":17,"x":5.20,"y":1.34},{"p":17,"x":5.28,"y":4.17},{"p":17,"x":5.33,"y":2.06},{"p":17,"x":5.34,"y":1.51},{"p":17,"x":5.44,"y":1.83},{"p":17,"x":5.45,"y":3.61},{"p":17,"x":5.50,"y":4.38},{"p":17,"x":5.68,"y":3.16},{"p":17,"x":5.71,"y":4.30},{"p":17,"x":5.79,"y":3.11},{"p":17,"x":5.82,"y":0.36},{"p":17,"x":5.84,"y":2.97},{"p":17,"x":5.92,"y":2.81},{"p":17,"x":5.95,"y":3.53},{"p":17,"x":6.05,"y":2.97},{"p":17,"x":6.54,"y":5.42},{"p":17,"x":6.57,"y":5.66},{"p":17,"x":6.56,"y":5.26},{"p":17,"x":6.64,"y":4.89},{"p":17,"x":6.65,"y":2.14},{"p":17,"x":6.81,"y":1.00},{"p":17,"x":6.74,"y":0.36},{"p":17,"x":7.06,"y":2.86},
{"p":18,"x":3.50,"y":0.36},{"p":18,"x":3.66,"y":1.10},{"p":18,"x":3.46,"y":5.21},{"p":18,"x":3.77,"y":2.86},{"p":18,"x":3.90,"y":4.33},{"p":18,"x":3.96,"y":1.34},{"p":18,"x":3.97,"y":4.17},{"p":18,"x":4.05,"y":3.02},{"p":18,"x":4.12,"y":2.60},{"p":18,"x":4.14,"y":3.56},{"p":18,"x":4.15,"y":2.65},{"p":18,"x":4.19,"y":1.40},{"p":18,"x":4.22,"y":3.13},{"p":18,"x":4.25,"y":2.81},{"p":18,"x":4.35,"y":4.33},{"p":18,"x":4.36,"y":2.49},{"p":18,"x":4.43,"y":3.08},{"p":18,"x":4.45,"y":4.01},{"p":18,"x":4.48,"y":2.97},{"p":18,"x":4.51,"y":2.12},{"p":18,"x":4.59,"y":1.48},{"p":18,"x":4.61,"y":3.08},{"p":18,"x":4.69,"y":3.05},{"p":18,"x":4.73,"y":1.80},{"p":18,"x":4.78,"y":2.02},{"p":18,"x":4.85,"y":4.33},{"p":18,"x":4.86,"y":1.74},{"p":18,"x":4.90,"y":3.69},{"p":18,"x":4.94,"y":2.01},{"p":18,"x":4.95,"y":2.52},{"p":18,"x":4.98,"y":4.86},{"p":18,"x":5.02,"y":3.69},{"p":18,"x":5.07,"y":0.39},{"p":18,"x":5.12,"y":0.49},{"p":18,"x":5.17,"y":3.37},{"p":18,"x":5.27,"y":3.08},{"p":18,"x":5.31,"y":1.16},{"p":18,"x":5.37,"y":3.45},{"p":18,"x":5.40,"y":3.61},{"p":18,"x":5.43,"y":4.70},{"p":18,"x":5.46,"y":2.97},{"p":18,"x":5.56,"y":1.93},{"p":18,"x":5.72,"y":1.02},{"p":18,"x":5.94,"y":1.93},{"p":18,"x":5.96,"y":0.50},{"p":18,"x":6.01,"y":0.58},{"p":18,"x":6.04,"y":1.26},
{"p":19,"x":3.18,"y":4.21},{"p":19,"x":3.18,"y":1.66},{"p":19,"x":3.27,"y":3.79},{"p":19,"x":3.36,"y":3.54},{"p":19,"x":3.41,"y":6.31},{"p":19,"x":3.42,"y":5.41},{"p":19,"x":3.43,"y":2.73},{"p":19,"x":3.58,"y":4.92},{"p":19,"x":3.61,"y":4.61},{"p":19,"x":3.68,"y":3.31},{"p":19,"x":3.87,"y":5.55},{"p":19,"x":3.93,"y":6.03},{"p":19,"x":3.99,"y":5.55},{"p":19,"x":4.00,"y":5.49},{"p":19,"x":4.02,"y":6.45},{"p":19,"x":4.04,"y":5.74},{"p":19,"x":4.05,"y":5.07},{"p":19,"x":4.06,"y":3.82},{"p":19,"x":4.09,"y":5.84},{"p":19,"x":4.12,"y":5.74},{"p":19,"x":4.14,"y":7.33},{"p":19,"x":4.15,"y":6.45},{"p":19,"x":4.16,"y":5.07},{"p":19,"x":4.18,"y":5.84},{"p":19,"x":4.24,"y":3.69},{"p":19,"x":4.27,"y":5.22},{"p":19,"x":4.30,"y":6.45},{"p":19,"x":4.33,"y":5.07},{"p":19,"x":4.35,"y":7.56},{"p":19,"x":4.37,"y":2.67},{"p":19,"x":4.40,"y":5.84},{"p":19,"x":4.42,"y":1.72},{"p":19,"x":4.43,"y":5.74},{"p":19,"x":4.44,"y":6.79},{"p":19,"x":4.46,"y":3.82},{"p":19,"x":4.49,"y":5.93},{"p":19,"x":4.50,"y":5.64},{"p":19,"x":4.55,"y":3.02},{"p":19,"x":4.60,"y":6.79},{"p":19,"x":4.73,"y":5.61},{"p":19,"x":4.77,"y":5.32},{"p":19,"x":4.80,"y":4.59},{"p":19,"x":4.81,"y":8.00},{"p":19,"x":4.85,"y":7.56},{"p":19,"x":5.31,"y":4.88},
{"p":20,"x":0.00,"y":0.56},{"p":20,"x":0.03,"y":5.40},{"p":20,"x":0.04,"y":4.68},{"p":20,"x":0.07,"y":3.65},{"p":20,"x":0.08,"y":2.94},{"p":20,"x":0.10,"y":0.44},{"p":20,"x":0.17,"y":3.62},{"p":20,"x":0.22,"y":3.10},{"p":20,"x":0.27,"y":0.60},{"p":20,"x":0.37,"y":2.14},{"p":20,"x":0.41,"y":1.83},{"p":20,"x":0.46,"y":2.54},{"p":20,"x":0.51,"y":4.32},{"p":20,"x":0.54,"y":3.65},{"p":20,"x":0.66,"y":1.24},{"p":20,"x":0.78,"y":1.38},{"p":20,"x":0.93,"y":3.44},{"p":20,"x":1.02,"y":4.13},{"p":20,"x":1.07,"y":1.11},{"p":20,"x":1.24,"y":1.03},{"p":20,"x":1.36,"y":1.35},{"p":20,"x":1.37,"y":0.40},{"p":20,"x":1.53,"y":4.89},{"p":20,"x":1.66,"y":1.19},{"p":20,"x":1.86,"y":1.90},{"p":20,"x":1.93,"y":0.51},{"p":20,"x":1.97,"y":2.06},{"p":20,"x":2.17,"y":4.00},{"p":20,"x":2.20,"y":3.37},{"p":20,"x":2.27,"y":3.02},{"p":20,"x":2.54,"y":1.78},{"p":20,"x":2.61,"y":3.06},{"p":20,"x":2.66,"y":0.38},{"p":20,"x":3.02,"y":3.02},{"p":20,"x":3.12,"y":2.54},{"p":20,"x":3.12,"y":1.51},{"p":20,"x":3.22,"y":2.14},{"p":20,"x":3.25,"y":2.94},{"p":20,"x":3.39,"y":4.32},{"p":20,"x":3.56,"y":3.52},{"p":20,"x":3.68,"y":1.90},{"p":20,"x":3.76,"y":2.81},{"p":20,"x":3.86,"y":3.17},{"p":20,"x":4.44,"y":4.32},{"p":20,"x":4.75,"y":2.86},{"p":20,"x":4.95,"y":2.67},{"p":20,"x":5.83,"y":5.60},
{"p":21,"x":3.12,"y":1.75},{"p":21,"x":3.45,"y":1.94},{"p":21,"x":3.62,"y":1.24},{"p":21,"x":3.96,"y":0.48},{"p":21,"x":4.15,"y":4.32},{"p":21,"x":4.22,"y":3.06},{"p":21,"x":4.29,"y":4.02},{"p":21,"x":4.31,"y":3.68},{"p":21,"x":4.34,"y":3.41},{"p":21,"x":4.38,"y":3.65},{"p":21,"x":4.43,"y":2.94},{"p":21,"x":4.46,"y":1.90},{"p":21,"x":4.64,"y":2.06},{"p":21,"x":4.67,"y":2.51},{"p":21,"x":4.70,"y":1.48},{"p":21,"x":4.74,"y":4.67},{"p":21,"x":4.78,"y":1.16},{"p":21,"x":4.79,"y":0.52},{"p":21,"x":4.81,"y":1.46},{"p":21,"x":4.94,"y":3.37},{"p":21,"x":5.12,"y":1.90},{"p":21,"x":5.23,"y":0.56},{"p":21,"x":5.26,"y":3.13},{"p":21,"x":5.32,"y":0.40},{"p":21,"x":5.34,"y":2.62},{"p":21,"x":5.43,"y":3.10},{"p":21,"x":5.45,"y":2.54},{"p":21,"x":5.57,"y":1.35},{"p":21,"x":5.59,"y":0.40},{"p":21,"x":5.61,"y":3.33},{"p":21,"x":5.73,"y":2.51},{"p":21,"x":5.77,"y":2.94},{"p":21,"x":5.82,"y":1.11},{"p":21,"x":5.84,"y":4.32},{"p":21,"x":5.87,"y":4.13},{"p":21,"x":5.93,"y":2.78},{"p":21,"x":6.00,"y":5.59},{"p":21,"x":6.01,"y":2.94},{"p":21,"x":6.09,"y":1.00},{"p":21,"x":6.28,"y":3.52},{"p":21,"x":6.33,"y":5.35},{"p":21,"x":6.35,"y":5.24},{"p":21,"x":6.38,"y":3.02},{"p":21,"x":6.43,"y":4.32},{"p":21,"x":6.51,"y":1.83},{"p":21,"x":6.54,"y":2.14},{"p":21,"x":6.72,"y":4.87},{"p":21,"x":6.81,"y":2.86},{"p":21,"x":6.17,"y":3.60},
{"p":22,"x":2.99,"y":0.56},{"p":22,"x":3.05,"y":0.48},{"p":22,"x":3.23,"y":1.38},{"p":22,"x":3.41,"y":0.43},{"p":22,"x":3.47,"y":3.00},{"p":22,"x":3.62,"y":1.56},{"p":22,"x":3.68,"y":2.13},{"p":22,"x":4.04,"y":4.00},{"p":22,"x":4.09,"y":4.63},{"p":22,"x":4.13,"y":4.21},{"p":22,"x":4.17,"y":4.17},{"p":22,"x":4.21,"y":4.21},{"p":22,"x":4.26,"y":4.56},{"p":22,"x":4.28,"y":3.98},{"p":22,"x":4.26,"y":1.75},{"p":22,"x":4.30,"y":1.06},{"p":22,"x":4.34,"y":1.11},{"p":22,"x":4.41,"y":0.75},{"p":22,"x":4.46,"y":1.38},{"p":22,"x":4.47,"y":2.97},{"p":22,"x":4.54,"y":0.71},{"p":22,"x":4.50,"y":2.14},{"p":22,"x":4.78,"y":3.41},{"p":22,"x":4.79,"y":2.46},{"p":22,"x":4.88,"y":0.65},{"p":22,"x":5.04,"y":1.90},{"p":22,"x":5.06,"y":2.86},{"p":22,"x":5.07,"y":0.44},{"p":22,"x":5.10,"y":3.14},{"p":22,"x":5.14,"y":0.84},{"p":22,"x":5.18,"y":3.65},{"p":22,"x":5.23,"y":2.81},{"p":22,"x":5.29,"y":4.02},{"p":22,"x":5.35,"y":2.98},{"p":22,"x":5.39,"y":4.33},{"p":22,"x":5.43,"y":2.65},{"p":22,"x":5.50,"y":2.97},{"p":22,"x":5.56,"y":1.75},{"p":22,"x":5.59,"y":3.76},{"p":22,"x":5.66,"y":2.43},{"p":22,"x":6.06,"y":4.76},{"p":22,"x":6.23,"y":5.24},{"p":22,"x":6.29,"y":5.08},{"p":22,"x":6.64,"y":4.33},{"p":22,"x":6.19,"y":2.78},
{"p":23,"x":2.96,"y":5.60},{"p":23,"x":3.17,"y":5.62},{"p":23,"x":3.32,"y":4.41},{"p":23,"x":3.42,"y":5.35},{"p":23,"x":3.53,"y":5.91},{"p":23,"x":3.61,"y":5.32},{"p":23,"x":4.03,"y":4.96},{"p":23,"x":4.05,"y":5.81},{"p":23,"x":4.14,"y":5.85},{"p":23,"x":4.16,"y":5.69},{"p":23,"x":4.18,"y":5.50},{"p":23,"x":4.20,"y":6.74},{"p":23,"x":4.22,"y":6.62},{"p":23,"x":4.27,"y":6.52},{"p":23,"x":4.35,"y":6.62},{"p":23,"x":4.42,"y":6.65},{"p":23,"x":4.52,"y":5.97},{"p":23,"x":4.52,"y":5.23},{"p":23,"x":4.65,"y":5.23},{"p":23,"x":4.71,"y":6.74},{"p":23,"x":4.72,"y":6.28},{"p":23,"x":4.77,"y":5.93},{"p":23,"x":4.78,"y":5.29},{"p":23,"x":4.71,"y":4.74},{"p":23,"x":5.14,"y":7.11},{"p":23,"x":5.14,"y":5.01},{"p":23,"x":5.16,"y":4.98},{"p":23,"x":5.19,"y":6.71},{"p":23,"x":5.30,"y":7.11},{"p":23,"x":5.32,"y":5.81},{"p":23,"x":5.33,"y":6.83},{"p":23,"x":5.39,"y":6.52},{"p":23,"x":5.43,"y":6.38},{"p":23,"x":5.46,"y":7.54},{"p":23,"x":5.51,"y":5.97},{"p":23,"x":5.57,"y":6.50},{"p":23,"x":5.64,"y":7.51},{"p":23,"x":5.76,"y":6.92},{"p":23,"x":5.78,"y":7.85},{"p":23,"x":5.94,"y":7.20},{"p":23,"x":6.10,"y":7.85},{"p":23,"x":6.15,"y":7.90},{"p":23,"x":6.23,"y":6.22},{"p":23,"x":6.58,"y":6.87},{"p":23,"x":2.96,"y":3.84},
{"p":24,"x":3.45,"y":5.84},{"p":24,"x":3.51,"y":5.26},{"p":24,"x":3.64,"y":3.79},{"p":24,"x":3.73,"y":6.75},{"p":24,"x":3.88,"y":5.61},{"p":24,"x":4.09,"y":5.99},{"p":24,"x":4.12,"y":5.45},{"p":24,"x":4.15,"y":3.34},{"p":24,"x":4.27,"y":6.45},{"p":24,"x":4.31,"y":5.03},{"p":24,"x":4.33,"y":7.33},{"p":24,"x":4.35,"y":5.76},{"p":24,"x":4.40,"y":5.51},{"p":24,"x":4.42,"y":5.32},{"p":24,"x":4.46,"y":5.57},{"p":24,"x":4.48,"y":6.28},{"p":24,"x":4.50,"y":5.99},{"p":24,"x":4.54,"y":5.07},{"p":24,"x":4.58,"y":4.61},{"p":24,"x":4.62,"y":6.47},{"p":24,"x":4.65,"y":4.36},{"p":24,"x":4.67,"y":3.73},{"p":24,"x":4.69,"y":6.47},{"p":24,"x":4.73,"y":8.00},{"p":24,"x":4.75,"y":3.73},{"p":24,"x":4.78,"y":4.61},{"p":24,"x":4.86,"y":5.80},{"p":24,"x":4.91,"y":5.45},{"p":24,"x":4.96,"y":4.93},{"p":24,"x":5.00,"y":1.77},{"p":24,"x":5.06,"y":3.50},{"p":24,"x":5.08,"y":5.84},{"p":24,"x":5.15,"y":4.93},{"p":24,"x":5.27,"y":2.77},{"p":24,"x":5.31,"y":5.84},{"p":24,"x":5.35,"y":4.88},{"p":24,"x":5.37,"y":6.75},{"p":24,"x":5.38,"y":5.64},{"p":24,"x":5.46,"y":5.84},{"p":24,"x":5.62,"y":5.61},{"p":24,"x":5.73,"y":3.79},{"p":24,"x":5.87,"y":2.69},{"p":24,"x":5.94,"y":1.77},{"p":24,"x":6.06,"y":3.02}
]
},
"data":{"name":"pts"},
"columns":5,
"spacing":{"row":4,"column":7},
"concat":[
{"transform":[{"filter":"datum.p==1"}],"encoding":{"x":{"field":"x","type":"quantitative","scale":{"zero":false,"nice":false,"padding":4},"axis":{"title":"log2(AQP9 TPM)","values":[0,1,2,3,4,5,6]}},"y":{"field":"y","type":"quantitative","scale":{"zero":false,"nice":false,"padding":4},"axis":{"title":"log2(HAVCR2 TPM)","values":[4,5,6,7,8]}}},"layer":[{"mark":{"type":"circle","size":4,"color":"#000","opacity":1}},{"transform":[{"aggregate":[{"op":"min","field":"x","as":"x"},{"op":"max","field":"y","as":"y"}],"groupby":["p"]},{"lookup":"p","from":{"data":{"name":"stats"},"key":"p","fields":["label"]}}],"mark":{"type":"text","align":"left","baseline":"top","dx":3,"dy":-2,"lineBreak":"\n","fontSize":6.5,"lineHeight":7.5,"color":"#222"},"encoding":{"text":{"field":"label"}}}]},
{"transform":[{"filter":"datum.p==2"}],"encoding":{"x":{"field":"x","type":"quantitative","scale":{"zero":false,"nice":false,"padding":4},"axis":{"title":"log2(AQP9 TPM)","values":[0,1,2,3,4,5,6]}},"y":{"field":"y","type":"quantitative","scale":{"zero":false,"nice":false,"padding":4},"axis":{"title":"log2(LAG3 TPM)","values":[2,3,4,5,6,7,8]}}},"layer":[{"mark":{"type":"circle","size":4,"color":"#000","opacity":1}},{"transform":[{"aggregate":[{"op":"min","field":"x","as":"x"},{"op":"max","field":"y","as":"y"}],"groupby":["p"]},{"lookup":"p","from":{"data":{"name":"stats"},"key":"p","fields":["label"]}}],"mark":{"type":"text","align":"left","baseline":"top","dx":3,"dy":-2,"lineBreak":"\n","fontSize":6.5,"lineHeight":7.5,"color":"#222"},"encoding":{"text":{"field":"label"}}}]},
{"transform":[{"filter":"datum.p==3"}],"encoding":{"x":{"field":"x","type":"quantitative","scale":{"zero":false,"nice":false,"padding":4},"axis":{"title":"log2(IFITM1 TPM)","values":[5,6,7,8,9,10]}},"y":{"field":"y","type":"quantitative","scale":{"zero":false,"nice":false,"padding":4},"axis":{"title":"log2(CTLA4 TPM)","values":[1,2,3,4,5]}}},"layer":[{"mark":{"type":"circle","size":4,"color":"#000","opacity":1}},{"transform":[{"aggregate":[{"op":"min","field":"x","as":"x"},{"op":"max","field":"y","as":"y"}],"groupby":["p"]},{"lookup":"p","from":{"data":{"name":"stats"},"key":"p","fields":["label"]}}],"mark":{"type":"text","align":"left","baseline":"top","dx":3,"dy":-2,"lineBreak":"\n","fontSize":6.5,"lineHeight":7.5,"color":"#222"},"encoding":{"text":{"field":"label"}}}]},
{"transform":[{"filter":"datum.p==4"}],"encoding":{"x":{"field":"x","type":"quantitative","scale":{"zero":false,"nice":false,"padding":4},"axis":{"title":"log2(IFITM1 TPM)","values":[5,6,7,8,9,10]}},"y":{"field":"y","type":"quantitative","scale":{"zero":false,"nice":false,"padding":4},"axis":{"title":"log2(HAVCR2 TPM)","values":[4,5,6,7,8]}}},"layer":[{"mark":{"type":"circle","size":4,"color":"#000","opacity":1}},{"transform":[{"aggregate":[{"op":"min","field":"x","as":"x"},{"op":"max","field":"y","as":"y"}],"groupby":["p"]},{"lookup":"p","from":{"data":{"name":"stats"},"key":"p","fields":["label"]}}],"mark":{"type":"text","align":"left","baseline":"top","dx":3,"dy":-2,"lineBreak":"\n","fontSize":6.5,"lineHeight":7.5,"color":"#222"},"encoding":{"text":{"field":"label"}}}]},
{"transform":[{"filter":"datum.p==5"}],"encoding":{"x":{"field":"x","type":"quantitative","scale":{"zero":false,"nice":false,"padding":4},"axis":{"title":"log2(IFITM1 TPM)","values":[5,6,7,8,9,10]}},"y":{"field":"y","type":"quantitative","scale":{"zero":false,"nice":false,"padding":4},"axis":{"title":"log2(LAG3 TPM)","values":[2,3,4,5,6,7,8]}}},"layer":[{"mark":{"type":"circle","size":4,"color":"#000","opacity":1}},{"transform":[{"aggregate":[{"op":"min","field":"x","as":"x"},{"op":"max","field":"y","as":"y"}],"groupby":["p"]},{"lookup":"p","from":{"data":{"name":"stats"},"key":"p","fields":["label"]}}],"mark":{"type":"text","align":"left","baseline":"top","dx":3,"dy":-2,"lineBreak":"\n","fontSize":6.5,"lineHeight":7.5,"color":"#222"},"encoding":{"text":{"field":"label"}}}]},
{"transform":[{"filter":"datum.p==6"}],"encoding":{"x":{"field":"x","type":"quantitative","scale":{"zero":false,"nice":false,"padding":4},"axis":{"title":"log2(LAP3 TPM)","values":[5,6,7,8]}},"y":{"field":"y","type":"quantitative","scale":{"zero":false,"nice":false,"padding":4},"axis":{"title":"log2(CTLA4 TPM)","values":[1,2,3,4,5]}}},"layer":[{"mark":{"type":"circle","size":4,"color":"#000","opacity":1}},{"transform":[{"aggregate":[{"op":"min","field":"x","as":"x"},{"op":"max","field":"y","as":"y"}],"groupby":["p"]},{"lookup":"p","from":{"data":{"name":"stats"},"key":"p","fields":["label"]}}],"mark":{"type":"text","align":"left","baseline":"top","dx":3,"dy":-2,"lineBreak":"\n","fontSize":6.5,"lineHeight":7.5,"color":"#222"},"encoding":{"text":{"field":"label"}}}]},
{"transform":[{"filter":"datum.p==7"}],"encoding":{"x":{"field":"x","type":"quantitative","scale":{"zero":false,"nice":false,"padding":4},"axis":{"title":"log2(LAP3 TPM)","values":[5,6,7,8]}},"y":{"field":"y","type":"quantitative","scale":{"zero":false,"nice":false,"padding":4},"axis":{"title":"log2(HAVCR2 TPM)","values":[4,5,6,7,8]}}},"layer":[{"mark":{"type":"circle","size":4,"color":"#000","opacity":1}},{"transform":[{"aggregate":[{"op":"min","field":"x","as":"x"},{"op":"max","field":"y","as":"y"}],"groupby":["p"]},{"lookup":"p","from":{"data":{"name":"stats"},"key":"p","fields":["label"]}}],"mark":{"type":"text","align":"left","baseline":"top","dx":3,"dy":-2,"lineBreak":"\n","fontSize":6.5,"lineHeight":7.5,"color":"#222"},"encoding":{"text":{"field":"label"}}}]},
{"transform":[{"filter":"datum.p==8"}],"encoding":{"x":{"field":"x","type":"quantitative","scale":{"zero":false,"nice":false,"padding":4},"axis":{"title":"log2(LAP3 TPM)","values":[5,6,7,8]}},"y":{"field":"y","type":"quantitative","scale":{"zero":false,"nice":false,"padding":4},"axis":{"title":"log2(LAG3 TPM)","values":[2,3,4,5,6,7,8]}}},"layer":[{"mark":{"type":"circle","size":4,"color":"#000","opacity":1}},{"transform":[{"aggregate":[{"op":"min","field":"x","as":"x"},{"op":"max","field":"y","as":"y"}],"groupby":["p"]},{"lookup":"p","from":{"data":{"name":"stats"},"key":"p","fields":["label"]}}],"mark":{"type":"text","align":"left","baseline":"top","dx":3,"dy":-2,"lineBreak":"\n","fontSize":6.5,"lineHeight":7.5,"color":"#222"},"encoding":{"text":{"field":"label"}}}]},
{"transform":[{"filter":"datum.p==9"}],"encoding":{"x":{"field":"x","type":"quantitative","scale":{"zero":false,"nice":false,"padding":4},"axis":{"title":"log2(LMBR1L TPM)","values":[3.5,4,4.5,5],"format":".1f"}},"y":{"field":"y","type":"quantitative","scale":{"zero":false,"nice":false,"padding":4},"axis":{"title":"log2(CTLA4 TPM)","values":[1,2,3,4,5]}}},"layer":[{"mark":{"type":"circle","size":4,"color":"#000","opacity":1}},{"transform":[{"aggregate":[{"op":"min","field":"x","as":"x"},{"op":"max","field":"y","as":"y"}],"groupby":["p"]},{"lookup":"p","from":{"data":{"name":"stats"},"key":"p","fields":["label"]}}],"mark":{"type":"text","align":"left","baseline":"top","dx":3,"dy":-2,"lineBreak":"\n","fontSize":6.5,"lineHeight":7.5,"color":"#222"},"encoding":{"text":{"field":"label"}}}]},
{"transform":[{"filter":"datum.p==10"}],"encoding":{"x":{"field":"x","type":"quantitative","scale":{"zero":false,"nice":false,"padding":4},"axis":{"title":"log2(MTCP1 TPM)","values":[3.5,4,4.5,5,5.5,6],"format":".1f"}},"y":{"field":"y","type":"quantitative","scale":{"zero":false,"nice":false,"padding":4},"axis":{"title":"log2(HAVCR2 TPM)","values":[4,5,6,7,8]}}},"layer":[{"mark":{"type":"circle","size":4,"color":"#000","opacity":1}},{"transform":[{"aggregate":[{"op":"min","field":"x","as":"x"},{"op":"max","field":"y","as":"y"}],"groupby":["p"]},{"lookup":"p","from":{"data":{"name":"stats"},"key":"p","fields":["label"]}}],"mark":{"type":"text","align":"left","baseline":"top","dx":3,"dy":-2,"lineBreak":"\n","fontSize":6.5,"lineHeight":7.5,"color":"#222"},"encoding":{"text":{"field":"label"}}}]},
{"transform":[{"filter":"datum.p==11"}],"encoding":{"x":{"field":"x","type":"quantitative","scale":{"zero":false,"nice":false,"padding":4},"axis":{"title":"log2(TNFSF10 TPM)","values":[2,3,4,5,6,7]}},"y":{"field":"y","type":"quantitative","scale":{"zero":false,"nice":false,"padding":4},"axis":{"title":"log2(CTLA4 TPM)","values":[1,2,3,4,5]}}},"layer":[{"mark":{"type":"circle","size":4,"color":"#000","opacity":1}},{"transform":[{"aggregate":[{"op":"min","field":"x","as":"x"},{"op":"max","field":"y","as":"y"}],"groupby":["p"]},{"lookup":"p","from":{"data":{"name":"stats"},"key":"p","fields":["label"]}}],"mark":{"type":"text","align":"left","baseline":"top","dx":3,"dy":-2,"lineBreak":"\n","fontSize":6.5,"lineHeight":7.5,"color":"#222"},"encoding":{"text":{"field":"label"}}}]},
{"transform":[{"filter":"datum.p==12"}],"encoding":{"x":{"field":"x","type":"quantitative","scale":{"zero":false,"nice":false,"padding":4},"axis":{"title":"log2(TNFSF10 TPM)","values":[2,3,4,5,6,7]}},"y":{"field":"y","type":"quantitative","scale":{"zero":false,"nice":false,"padding":4},"axis":{"title":"log2(LAG3 TPM)","values":[2,3,4,5,6,7,8]}}},"layer":[{"mark":{"type":"circle","size":4,"color":"#000","opacity":1}},{"transform":[{"aggregate":[{"op":"min","field":"x","as":"x"},{"op":"max","field":"y","as":"y"}],"groupby":["p"]},{"lookup":"p","from":{"data":{"name":"stats"},"key":"p","fields":["label"]}}],"mark":{"type":"text","align":"left","baseline":"top","dx":3,"dy":-2,"lineBreak":"\n","fontSize":6.5,"lineHeight":7.5,"color":"#222"},"encoding":{"text":{"field":"label"}}}]},
{"transform":[{"filter":"datum.p==13"}],"encoding":{"x":{"field":"x","type":"quantitative","scale":{"zero":false,"nice":false,"padding":4},"axis":{"title":"log2(TNFSF10 TPM)","values":[2,3,4,5,6,7]}},"y":{"field":"y","type":"quantitative","scale":{"zero":false,"nice":false,"padding":4},"axis":{"title":"log2(HAVCR2 TPM)","values":[4,5,6,7,8]}}},"layer":[{"mark":{"type":"circle","size":4,"color":"#000","opacity":1}},{"transform":[{"aggregate":[{"op":"min","field":"x","as":"x"},{"op":"max","field":"y","as":"y"}],"groupby":["p"]},{"lookup":"p","from":{"data":{"name":"stats"},"key":"p","fields":["label"]}}],"mark":{"type":"text","align":"left","baseline":"top","dx":3,"dy":-2,"lineBreak":"\n","fontSize":6.5,"lineHeight":7.5,"color":"#222"},"encoding":{"text":{"field":"label"}}}]},
{"transform":[{"filter":"datum.p==14"}],"encoding":{"x":{"field":"x","type":"quantitative","scale":{"zero":false,"nice":false,"padding":4},"axis":{"title":"log2(JAK1 TPM)","values":[3.5,4,4.5,5,5.5,6,6.5,7],"format":".1f"}},"y":{"field":"y","type":"quantitative","scale":{"zero":false,"nice":false,"padding":4},"axis":{"title":"log2(CD274 TPM)","values":[2,4,6,8]}}},"layer":[{"mark":{"type":"circle","size":4,"color":"#000","opacity":1}},{"transform":[{"aggregate":[{"op":"min","field":"x","as":"x"},{"op":"max","field":"y","as":"y"}],"groupby":["p"]},{"lookup":"p","from":{"data":{"name":"stats"},"key":"p","fields":["label"]}}],"mark":{"type":"text","align":"left","baseline":"top","dx":3,"dy":-2,"lineBreak":"\n","fontSize":6.5,"lineHeight":7.5,"color":"#222"},"encoding":{"text":{"field":"label"}}}]},
{"transform":[{"filter":"datum.p==15"}],"encoding":{"x":{"field":"x","type":"quantitative","scale":{"zero":false,"nice":false,"padding":4},"axis":{"title":"log2(RFX5 TPM)","values":[3,4,5,6]}},"y":{"field":"y","type":"quantitative","scale":{"zero":false,"nice":false,"padding":4},"axis":{"title":"log2(HAVCR2 TPM)","values":[4,5,6,7,8]}}},"layer":[{"mark":{"type":"circle","size":4,"color":"#000","opacity":1}},{"transform":[{"aggregate":[{"op":"min","field":"x","as":"x"},{"op":"max","field":"y","as":"y"}],"groupby":["p"]},{"lookup":"p","from":{"data":{"name":"stats"},"key":"p","fields":["label"]}}],"mark":{"type":"text","align":"left","baseline":"top","dx":3,"dy":-2,"lineBreak":"\n","fontSize":6.5,"lineHeight":7.5,"color":"#222"},"encoding":{"text":{"field":"label"}}}]},
{"transform":[{"filter":"datum.p==16"}],"encoding":{"x":{"field":"x","type":"quantitative","scale":{"zero":false,"nice":false,"padding":4},"axis":{"title":"log2(BACH2 TPM)","values":[0,1,2,3,4,5]}},"y":{"field":"y","type":"quantitative","scale":{"zero":false,"nice":false,"padding":4},"axis":{"title":"log2(CTLA4 TPM)","values":[1,2,3,4,5]}}},"layer":[{"mark":{"type":"circle","size":4,"color":"#000","opacity":1}},{"transform":[{"aggregate":[{"op":"min","field":"x","as":"x"},{"op":"max","field":"y","as":"y"}],"groupby":["p"]},{"lookup":"p","from":{"data":{"name":"stats"},"key":"p","fields":["label"]}}],"mark":{"type":"text","align":"left","baseline":"top","dx":3,"dy":-2,"lineBreak":"\n","fontSize":6.5,"lineHeight":7.5,"color":"#222"},"encoding":{"text":{"field":"label"}}}]},
{"transform":[{"filter":"datum.p==17"}],"encoding":{"x":{"field":"x","type":"quantitative","scale":{"zero":false,"nice":false,"padding":4},"axis":{"title":"log2(JAK1 TPM)","values":[3.5,4,4.5,5,5.5,6,6.5,7],"format":".1f"}},"y":{"field":"y","type":"quantitative","scale":{"zero":false,"nice":false,"padding":4},"axis":{"title":"log2(CTLA4 TPM)","values":[1,2,3,4,5]}}},"layer":[{"mark":{"type":"circle","size":4,"color":"#000","opacity":1}},{"transform":[{"aggregate":[{"op":"min","field":"x","as":"x"},{"op":"max","field":"y","as":"y"}],"groupby":["p"]},{"lookup":"p","from":{"data":{"name":"stats"},"key":"p","fields":["label"]}}],"mark":{"type":"text","align":"left","baseline":"top","dx":3,"dy":-2,"lineBreak":"\n","fontSize":6.5,"lineHeight":7.5,"color":"#222"},"encoding":{"text":{"field":"label"}}}]},
{"data":{"values":[]},"width":122,"height":117,"view":{"stroke":null},"mark":{"type":"point","opacity":0},"encoding":{}},
{"transform":[{"filter":"datum.p==18"}],"encoding":{"x":{"field":"x","type":"quantitative","scale":{"zero":false,"nice":false,"padding":4},"axis":{"title":"log2(MTCP1 TPM)","values":[3.5,4,4.5,5,5.5,6],"format":".1f"}},"y":{"field":"y","type":"quantitative","scale":{"zero":false,"nice":false,"padding":4},"axis":{"title":"log2(CTLA4 TPM)","values":[1,2,3,4,5]}}},"layer":[{"mark":{"type":"circle","size":4,"color":"#000","opacity":1}},{"transform":[{"aggregate":[{"op":"min","field":"x","as":"x"},{"op":"max","field":"y","as":"y"}],"groupby":["p"]},{"lookup":"p","from":{"data":{"name":"stats"},"key":"p","fields":["label"]}}],"mark":{"type":"text","align":"left","baseline":"top","dx":3,"dy":-2,"lineBreak":"\n","fontSize":6.5,"lineHeight":7.5,"color":"#222"},"encoding":{"text":{"field":"label"}}}]},
{"transform":[{"filter":"datum.p==19"}],"encoding":{"x":{"field":"x","type":"quantitative","scale":{"zero":false,"nice":false,"padding":4},"axis":{"title":"log2(LMBR1L TPM)","values":[3.5,4,4.5,5],"format":".1f"}},"y":{"field":"y","type":"quantitative","scale":{"zero":false,"nice":false,"padding":4},"axis":{"title":"log2(LAG3 TPM)","values":[2,3,4,5,6,7,8]}}},"layer":[{"mark":{"type":"circle","size":4,"color":"#000","opacity":1}},{"transform":[{"aggregate":[{"op":"min","field":"x","as":"x"},{"op":"max","field":"y","as":"y"}],"groupby":["p"]},{"lookup":"p","from":{"data":{"name":"stats"},"key":"p","fields":["label"]}}],"mark":{"type":"text","align":"left","baseline":"top","dx":3,"dy":-2,"lineBreak":"\n","fontSize":6.5,"lineHeight":7.5,"color":"#222"},"encoding":{"text":{"field":"label"}}}]},
{"transform":[{"filter":"datum.p==20"}],"encoding":{"x":{"field":"x","type":"quantitative","scale":{"zero":false,"nice":false,"padding":4},"axis":{"title":"log2(AQP9 TPM)","values":[0,1,2,3,4,5,6]}},"y":{"field":"y","type":"quantitative","scale":{"zero":false,"nice":false,"padding":4},"axis":{"title":"log2(CTLA4 TPM)","values":[1,2,3,4,5]}}},"layer":[{"mark":{"type":"circle","size":4,"color":"#000","opacity":1}},{"transform":[{"aggregate":[{"op":"min","field":"x","as":"x"},{"op":"max","field":"y","as":"y"}],"groupby":["p"]},{"lookup":"p","from":{"data":{"name":"stats"},"key":"p","fields":["label"]}}],"mark":{"type":"text","align":"left","baseline":"top","dx":3,"dy":-2,"lineBreak":"\n","fontSize":6.5,"lineHeight":7.5,"color":"#222"},"encoding":{"text":{"field":"label"}}}]},
{"transform":[{"filter":"datum.p==21"}],"encoding":{"x":{"field":"x","type":"quantitative","scale":{"zero":false,"nice":false,"padding":4},"axis":{"title":"log2(RFX5 TPM)","values":[3,4,5,6]}},"y":{"field":"y","type":"quantitative","scale":{"zero":false,"nice":false,"padding":4},"axis":{"title":"log2(CTLA4 TPM)","values":[1,2,3,4,5]}}},"layer":[{"mark":{"type":"circle","size":4,"color":"#000","opacity":1}},{"transform":[{"aggregate":[{"op":"min","field":"x","as":"x"},{"op":"max","field":"y","as":"y"}],"groupby":["p"]},{"lookup":"p","from":{"data":{"name":"stats"},"key":"p","fields":["label"]}}],"mark":{"type":"text","align":"left","baseline":"top","dx":3,"dy":-2,"lineBreak":"\n","fontSize":6.5,"lineHeight":7.5,"color":"#222"},"encoding":{"text":{"field":"label"}}}]},
{"transform":[{"filter":"datum.p==22"}],"encoding":{"x":{"field":"x","type":"quantitative","scale":{"zero":false,"nice":false,"padding":4},"axis":{"title":"log2(TANK TPM)","values":[3,4,5,6]}},"y":{"field":"y","type":"quantitative","scale":{"zero":false,"nice":false,"padding":4},"axis":{"title":"log2(CTLA4 TPM)","values":[1,2,3,4,5]}}},"layer":[{"mark":{"type":"circle","size":4,"color":"#000","opacity":1}},{"transform":[{"aggregate":[{"op":"min","field":"x","as":"x"},{"op":"max","field":"y","as":"y"}],"groupby":["p"]},{"lookup":"p","from":{"data":{"name":"stats"},"key":"p","fields":["label"]}}],"mark":{"type":"text","align":"left","baseline":"top","dx":3,"dy":-2,"lineBreak":"\n","fontSize":6.5,"lineHeight":7.5,"color":"#222"},"encoding":{"text":{"field":"label"}}}]},
{"transform":[{"filter":"datum.p==23"}],"encoding":{"x":{"field":"x","type":"quantitative","scale":{"zero":false,"nice":false,"padding":4},"axis":{"title":"log2(TANK TPM)","values":[3,4,5,6]}},"y":{"field":"y","type":"quantitative","scale":{"zero":false,"nice":false,"padding":4},"axis":{"title":"log2(HAVCR2 TPM)","values":[4,5,6,7,8]}}},"layer":[{"mark":{"type":"circle","size":4,"color":"#000","opacity":1}},{"transform":[{"aggregate":[{"op":"min","field":"x","as":"x"},{"op":"max","field":"y","as":"y"}],"groupby":["p"]},{"lookup":"p","from":{"data":{"name":"stats"},"key":"p","fields":["label"]}}],"mark":{"type":"text","align":"left","baseline":"top","dx":3,"dy":-2,"lineBreak":"\n","fontSize":6.5,"lineHeight":7.5,"color":"#222"},"encoding":{"text":{"field":"label"}}}]},
{"transform":[{"filter":"datum.p==24"}],"encoding":{"x":{"field":"x","type":"quantitative","scale":{"zero":false,"nice":false,"padding":4},"axis":{"title":"log2(MTCP1 TPM)","values":[3.5,4,4.5,5,5.5,6],"format":".1f"}},"y":{"field":"y","type":"quantitative","scale":{"zero":false,"nice":false,"padding":4},"axis":{"title":"log2(LAG3 TPM)","values":[2,3,4,5,6,7,8]}}},"layer":[{"mark":{"type":"circle","size":4,"color":"#000","opacity":1}},{"transform":[{"aggregate":[{"op":"min","field":"x","as":"x"},{"op":"max","field":"y","as":"y"}],"groupby":["p"]},{"lookup":"p","from":{"data":{"name":"stats"},"key":"p","fields":["label"]}}],"mark":{"type":"text","align":"left","baseline":"top","dx":3,"dy":-2,"lineBreak":"\n","fontSize":6.5,"lineHeight":7.5,"color":"#222"},"encoding":{"text":{"field":"label"}}}]}
],
"config":{
"view":{"continuousWidth":122,"continuousHeight":117,"stroke":"#8a8a8a","strokeWidth":1},
"font":"Liberation Sans",
"axis":{"domain":false,"grid":false,"tickColor":"#666","tickSize":3,"labelFontSize":5.5,"labelColor":"#444","labelPadding":2,"titleFontSize":8.5,"titleFontWeight":"normal","titleColor":"#333","labelFont":"Liberation Sans","titleFont":"Liberation Sans"},
"axisY":{"labelAngle":-90,"labelAlign":"center","labelBaseline":"bottom","titlePadding":3,"titleFontSize":8},
"axisX":{"tickSize":4,"labelPadding":3,"titlePadding":3},
"text":{"font":"Liberation Sans"}
}
}
